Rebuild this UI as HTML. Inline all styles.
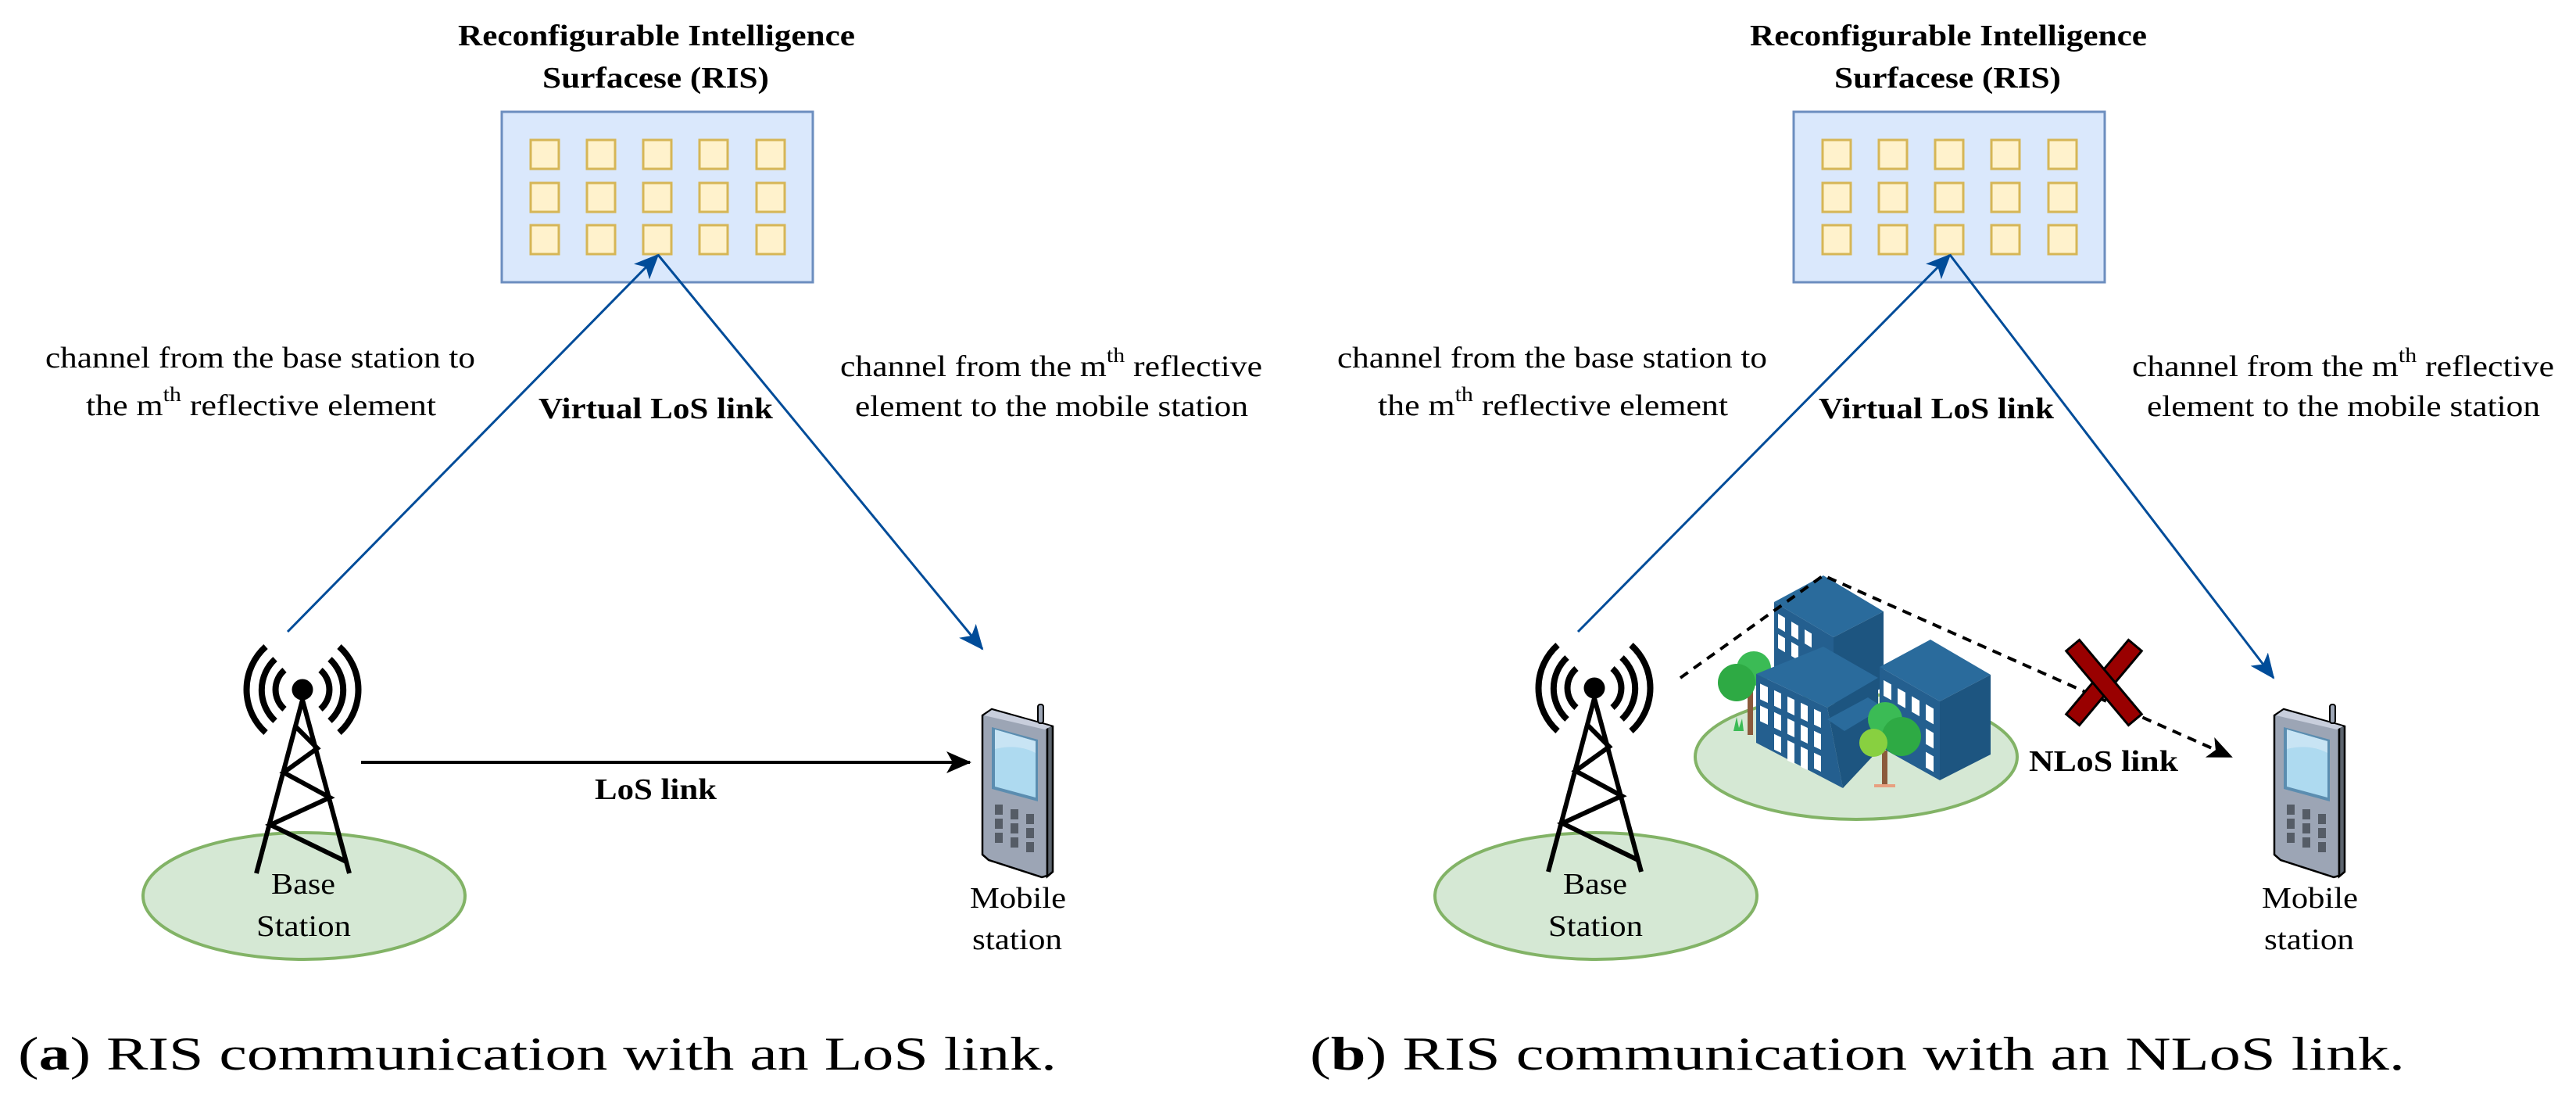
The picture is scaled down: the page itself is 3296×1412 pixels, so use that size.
<!DOCTYPE html>
<html><head><meta charset="utf-8"><style>
html,body{margin:0;padding:0;background:#fff;}
svg{display:block;}
text{font-family:"Liberation Serif",serif;fill:#000;}
</style></head><body>
<svg width="3296" height="1412" viewBox="0 0 3296 1412" xmlns="http://www.w3.org/2000/svg" font-family="Liberation Serif, serif">
<defs>
<marker id="ab" markerUnits="userSpaceOnUse" markerWidth="40" markerHeight="40" refX="30" refY="14" orient="auto"><path d="M0,0 L32,14 L0,28 L8,14 Z" fill="#004C99"/></marker>
<marker id="ak" markerUnits="userSpaceOnUse" markerWidth="40" markerHeight="40" refX="30" refY="14" orient="auto"><path d="M0,0 L32,14 L0,28 L8,14 Z" fill="#000"/></marker>
<g id="ris">
<rect x="642" y="143" width="398" height="218" fill="#dae8fc" stroke="#6c8ebf" stroke-width="3"/>
<g fill="#fff2cc" stroke="#d6b656" stroke-width="3">
<rect x="679" y="179" width="36" height="37"/><rect x="751" y="179" width="36" height="37"/><rect x="823" y="179" width="36" height="37"/><rect x="895" y="179" width="36" height="37"/><rect x="968" y="179" width="36" height="37"/>
<rect x="679" y="234" width="36" height="37"/><rect x="751" y="234" width="36" height="37"/><rect x="823" y="234" width="36" height="37"/><rect x="895" y="234" width="36" height="37"/><rect x="968" y="234" width="36" height="37"/>
<rect x="679" y="288" width="36" height="37"/><rect x="751" y="288" width="36" height="37"/><rect x="823" y="288" width="36" height="37"/><rect x="895" y="288" width="36" height="37"/><rect x="968" y="288" width="36" height="37"/>
</g>
<text x="586" y="58" font-size="38" font-weight="bold" textLength="508" lengthAdjust="spacingAndGlyphs">Reconfigurable Intelligence</text>
<text x="694" y="112" font-size="38" font-weight="bold" textLength="290" lengthAdjust="spacingAndGlyphs">Surfacese (RIS)</text>
<text x="58" y="470" font-size="38" textLength="550" lengthAdjust="spacingAndGlyphs">channel from the base station to</text>
<text x="110" y="531" font-size="38" textLength="448" lengthAdjust="spacingAndGlyphs">the m<tspan font-size="26" dy="-18">th</tspan><tspan dy="18"> reflective element</tspan></text>
<text x="1075" y="481" font-size="38" textLength="540" lengthAdjust="spacingAndGlyphs">channel from the m<tspan font-size="26" dy="-18">th</tspan><tspan dy="18"> reflective</tspan></text>
<text x="1094" y="532" font-size="38" textLength="503" lengthAdjust="spacingAndGlyphs">element to the mobile station</text>
</g>
<g id="tower">
<g fill="none" stroke="#000" stroke-width="8">
<path d="M340,827 A74,74 0 0 0 340,937"/><path d="M434,827 A74,74 0 0 1 434,937"/>
<path d="M352,843 A54,54 0 0 0 352,922"/><path d="M422,843 A54,54 0 0 1 422,922"/>
<path d="M364,857 A33,33 0 0 0 364,907"/><path d="M410,857 A33,33 0 0 1 410,907"/>
</g>
<circle cx="387" cy="882" r="13.5" fill="#000"/>
<g fill="none" stroke="#000" stroke-width="6">
<path d="M387,895 L328,1117 M387,895 L447,1117"/>
<path d="M377,928 L406,957 L363,988 L422,1020 L346,1055 L443,1102"/>
</g>
</g>
<g id="phone">
<path d="M0,12 L12,4 L83,24 L83,217 L76,219 L8,197 L0,190 Z" fill="#9ca5b5" stroke="#000" stroke-width="2.5"/>
<path d="M83,24 L90,26 L90,212 L83,218 Z" fill="#5c646e" stroke="#000" stroke-width="2.5"/>
<path d="M2,12 L12,5 L88,26 L80,30 Z" fill="#c8cedc"/>
<rect x="71" y="-2" width="7" height="24" rx="3" fill="#9ca5b5" stroke="#000" stroke-width="2"/>
<path d="M12,27 L71,43 L71,122 L12,106 Z" fill="#5b8db0"/>
<path d="M16,30 L68,45 L68,117 L16,103 Z" fill="#aedaf0"/>
<path d="M16,30 L68,45 L68,60 Q45,48 16,55 Z" fill="#c8e4f4"/>
<g fill="#555c66">
<rect x="16" y="126" width="10" height="13"/><rect x="36" y="132" width="10" height="13"/><rect x="56" y="138" width="10" height="13"/>
<rect x="16" y="144" width="10" height="13"/><rect x="36" y="150" width="10" height="13"/><rect x="56" y="156" width="10" height="13"/>
<rect x="16" y="162" width="10" height="13"/><rect x="36" y="168" width="10" height="13"/><rect x="56" y="174" width="10" height="13"/>
</g>
</g>
</defs>

<!-- LEFT PANEL -->
<use href="#ris"/>
<ellipse cx="389" cy="1146" rx="206" ry="81" fill="#d5e8d4" stroke="#82b366" stroke-width="4"/>
<use href="#tower"/>
<text x="347" y="1143" font-size="38" textLength="82" lengthAdjust="spacingAndGlyphs">Base</text>
<text x="328" y="1197" font-size="38" textLength="121" lengthAdjust="spacingAndGlyphs">Station</text>
<use href="#phone" transform="translate(1257,903)"/>
<text x="1241" y="1161" font-size="38" textLength="123" lengthAdjust="spacingAndGlyphs">Mobile</text>
<text x="1244" y="1214" font-size="38" textLength="115" lengthAdjust="spacingAndGlyphs">station</text>
<line x1="368" y1="808" x2="842" y2="326" stroke="#004C99" stroke-width="3" marker-end="url(#ab)"/>
<line x1="842" y1="326" x2="1257" y2="830" stroke="#004C99" stroke-width="3" marker-end="url(#ab)"/>
<line x1="462" y1="975" x2="1241" y2="975" stroke="#000" stroke-width="4" marker-end="url(#ak)"/>
<text x="689" y="535" font-size="38" font-weight="bold" textLength="300" lengthAdjust="spacingAndGlyphs">Virtual LoS link</text>
<text x="761" y="1022" font-size="38" font-weight="bold" textLength="156" lengthAdjust="spacingAndGlyphs">LoS link</text>
<text x="23" y="1368" font-size="60" textLength="1329" lengthAdjust="spacingAndGlyphs">(<tspan font-weight="bold">a</tspan>) RIS communication with an LoS link.</text>

<!-- RIGHT PANEL -->
<use href="#ris" transform="translate(1653,0)"/>
<rect x="2320" y="500" width="320" height="45" fill="#fff"/>
<text x="2327" y="535" font-size="38" font-weight="bold" textLength="301" lengthAdjust="spacingAndGlyphs">Virtual LoS link</text>
<ellipse cx="2042" cy="1146" rx="206" ry="81" fill="#d5e8d4" stroke="#82b366" stroke-width="4"/>
<use href="#tower" transform="translate(1653,-2)"/>
<text x="2000" y="1143" font-size="38" textLength="82" lengthAdjust="spacingAndGlyphs">Base</text>
<text x="1981" y="1197" font-size="38" textLength="121" lengthAdjust="spacingAndGlyphs">Station</text>
<use href="#phone" transform="translate(2910,903)"/>
<text x="2894" y="1161" font-size="38" textLength="123" lengthAdjust="spacingAndGlyphs">Mobile</text>
<text x="2897" y="1214" font-size="38" textLength="115" lengthAdjust="spacingAndGlyphs">station</text>
<line x1="2019" y1="808" x2="2495" y2="326" stroke="#004C99" stroke-width="3" marker-end="url(#ab)"/>
<line x1="2495" y1="326" x2="2909" y2="867" stroke="#004C99" stroke-width="3" marker-end="url(#ab)"/>

<!-- buildings -->
<ellipse cx="2375" cy="968" rx="206" ry="80" fill="#d5e8d4" stroke="#82b366" stroke-width="4"/>
<rect x="2236" y="880" width="7" height="60" fill="#8b5a3c"/>
<circle cx="2244" cy="855" r="22" fill="#3bbb55"/>
<circle cx="2222" cy="873" r="24" fill="#2eaa44"/>
<polygon points="2270,770 2333,736 2410,782 2346,815" fill="#2a6b9c"/>
<polygon points="2270,770 2346,815 2346,900 2270,860" fill="#245f8f"/>
<polygon points="2346,815 2410,782 2410,880 2346,900" fill="#1d5580"/>
<g transform="translate(2270,770) matrix(1,0.59,0,1,0,0)" fill="#fff"><rect x="5" y="12" width="9" height="18"/><rect x="22" y="12" width="9" height="18"/><rect x="39" y="12" width="9" height="18"/><rect x="5" y="38" width="9" height="18"/><rect x="22" y="38" width="9" height="18"/></g>
<polygon points="2405,853 2470,818 2547,863 2482,897" fill="#2a6b9c"/>
<polygon points="2405,853 2482,897 2482,998 2405,955" fill="#245f8f"/>
<polygon points="2482,897 2547,863 2547,965 2482,998" fill="#1d5580"/>
<g transform="translate(2405,853) matrix(1,0.57,0,1,0,0)" fill="#fff"><rect x="5" y="14" width="10" height="20"/><rect x="23" y="14" width="10" height="20"/><rect x="41" y="14" width="10" height="20"/><rect x="59" y="14" width="10" height="20"/><rect x="5" y="45" width="10" height="20"/><rect x="59" y="45" width="10" height="20"/><rect x="59" y="75" width="10" height="20"/></g>
<polygon points="2247,862 2333,827 2403,867 2338,905" fill="#2a6b9c"/>
<polygon points="2247,862 2338,905 2358,1008 2247,950" fill="#245f8f"/>
<polygon points="2338,905 2403,867 2403,960 2358,1008" fill="#1d5580"/>
<polygon points="2338,920 2390,892 2410,905 2360,935" fill="#2a6b9c"/>
<g transform="translate(2247,862) matrix(1,0.47,0,1,0,0)" fill="#fff"><rect x="5" y="10" width="10" height="20"/><rect x="23" y="10" width="9" height="20"/><rect x="40" y="10" width="9" height="20"/><rect x="57" y="10" width="9" height="20"/><rect x="74" y="10" width="9" height="20"/><rect x="5" y="38" width="10" height="20"/><rect x="23" y="38" width="9" height="20"/><rect x="40" y="38" width="9" height="20"/><rect x="57" y="38" width="9" height="20"/><rect x="74" y="38" width="9" height="20"/><rect x="23" y="66" width="9" height="20"/><rect x="40" y="66" width="9" height="26"/><rect x="57" y="66" width="9" height="26"/><rect x="74" y="66" width="9" height="20"/></g>
<path d="M2218,935 l4,-18 l3,14 l4,-12 l2,16 Z" fill="#3bbb55"/>
<rect x="2408" y="960" width="7" height="45" fill="#8b5a3c"/>
<rect x="2398" y="1003" width="27" height="4" fill="#e8a080"/>
<circle cx="2412" cy="920" r="22" fill="#3bbb55"/>
<circle cx="2433" cy="942" r="25" fill="#2eaa44"/>
<circle cx="2397" cy="950" r="18" fill="#88d040"/>
<polyline points="2150,867 2333,736 2855,968" fill="none" stroke="#000" stroke-width="4" stroke-dasharray="12,9" marker-end="url(#ak)"/>
<g transform="translate(2692,873)">
<rect x="-11" y="-62" width="22" height="124" fill="#990000" stroke="#000" stroke-width="3" transform="rotate(40)"/>
<rect x="-11" y="-62" width="22" height="124" fill="#990000" stroke="#000" stroke-width="3" transform="rotate(-40)"/>
</g>
<text x="2596" y="986" font-size="38" font-weight="bold" textLength="191" lengthAdjust="spacingAndGlyphs">NLoS link</text>
<text x="1676" y="1368" font-size="60" textLength="1401" lengthAdjust="spacingAndGlyphs">(<tspan font-weight="bold">b</tspan>) RIS communication with an NLoS link.</text>
</svg>
</body></html>
